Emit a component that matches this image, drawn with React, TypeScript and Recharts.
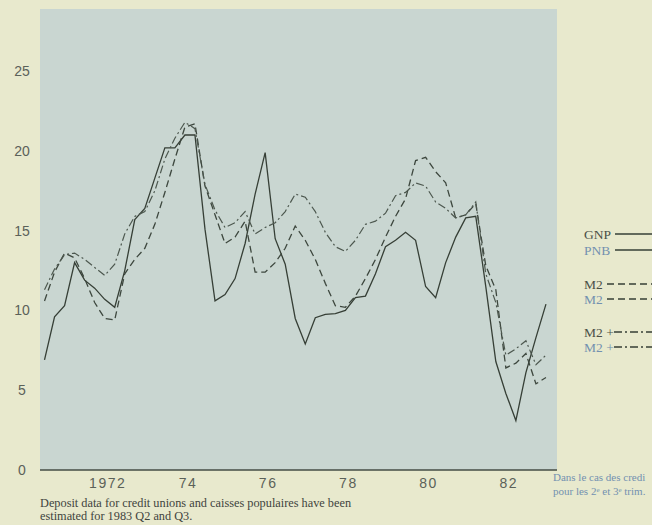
import React from 'react';
import { LineChart, Line, XAxis, YAxis } from 'recharts';

// year-over-year growth, %, quarterly from 1971 Q1 to 1983 Q3
const years = [1971, 1972, 1973, 1974, 1975, 1976, 1977, 1978, 1979, 1980, 1981, 1982, 1983];
const quarterNames = ['Q1', 'Q2', 'Q3', 'Q4'];

const gnp = [
  6.9, 9.6, 10.3, 13.0, 11.9, 11.4, 10.7, 10.2, 12.5, 15.7,
  16.4, 18.3, 20.2, 20.2, 21.0, 21.0, 15.1, 10.6, 11.0, 12.0,
  14.2, 17.3, 19.9, 14.5, 12.9, 9.5, 7.9, 9.55, 9.75, 9.8,
  10.0, 10.8, 10.9, 12.3, 14.0, 14.4, 14.9, 14.4, 11.5, 10.8,
  13.0, 14.6, 15.8, 15.9, 11.5, 6.8, 4.8, 3.1, 6.1, 8.3, 10.4,
];

const m2 = [
  10.6, 12.4, 13.6, 13.3, 12.0, 10.5, 9.5, 9.4, 12.3, 13.2,
  13.9, 15.4, 17.4, 19.5, 21.5, 21.7, 17.8, 16.0, 14.2, 14.6,
  15.6, 12.4, 12.4, 13.0, 13.9, 15.3, 14.4, 13.2, 11.7, 10.3,
  10.2, 10.9, 12.0, 13.2, 14.6, 15.9, 17.0, 19.4, 19.6, 18.7,
  18.0, 15.8, 16.0, 16.7, 12.8, 11.3, 6.4, 6.7, 7.3, 5.4, 5.8,
];

const m2plus = [
  11.3, 12.6, 13.5, 13.6, 13.2, 12.7, 12.2, 12.9, 14.8, 15.9,
  16.2, 17.5, 19.5, 20.8, 21.8, 21.4, 17.9, 16.3, 15.2, 15.5,
  16.2, 14.8, 15.2, 15.5, 16.2, 17.3, 17.1, 16.2, 14.9, 14.0,
  13.7, 14.4, 15.4, 15.6, 16.1, 17.2, 17.4, 18.0, 17.8, 16.8,
  16.4, 15.8, 16.0, 16.8, 12.3, 10.5, 7.2, 7.6, 8.1, 6.6, 7.2,
];

const yTicks = [0, 5, 10, 15, 20, 25];
const xTickYears = [1972, 1974, 1976, 1978, 1980, 1982];
const xTickLabels = ['1972', '74', '76', '78', '80', '82'];

const quarterLabels = years.flatMap((y) => quarterNames.map((q) => `${y} ${q}`));

const rows = gnp.map((v, i) => ({
  i,
  quarter: quarterLabels[i],
  gnp: v,
  m2: m2[i],
  m2plus: m2plus[i],
}));

// tick sits about mid-year
const xTicks = xTickYears.map((y) => (y - 1971) * 4 + 2.3);

const PAGE = '#e8e9cd';
const PANEL = '#c9d6d1';
const INK = '#363f36';
const TICK_TEXT = '#5b6159';
const BLUE_TEXT = '#7391b0';
const SERIF = "'Liberation Serif', 'Times New Roman', serif";

const renderXTick = (props: any) => {
  const { x, index } = props;
  return (
    <text
      x={x}
      y={488}
      textAnchor="middle"
      fill={TICK_TEXT}
      fontSize={14}
      letterSpacing={1.5}
      fontFamily="'Liberation Sans', Arial, sans-serif"
    >
      {xTickLabels[index]}
    </text>
  );
};

const renderYTick = (props: any) => {
  const { y, payload } = props;
  return (
    <text
      x={22}
      y={y + 5}
      textAnchor="middle"
      fill={TICK_TEXT}
      fontSize={14}
      fontFamily="'Liberation Sans', Arial, sans-serif"
    >
      {payload.value}
    </text>
  );
};

function Legend() {
  const items = [
    { label: 'GNP', color: '#4b5048', y: 234, x1: 615, dash: undefined },
    { label: 'PNB', color: BLUE_TEXT, y: 250, x1: 615, dash: undefined },
    { label: 'M2', color: '#4b5048', y: 284, x1: 607, dash: '7 4' },
    { label: 'M2', color: BLUE_TEXT, y: 299, x1: 607, dash: '7 4' },
    { label: 'M2 +', color: '#4b5048', y: 332, x1: 614, dash: '8 3 2 3' },
    { label: 'M2 +', color: BLUE_TEXT, y: 347, x1: 614, dash: '8 3 2 3' },
  ];
  return (
    <g>
      {items.map((it, k) => (
        <g key={k}>
          <text x={584} y={it.y + 4.5} fill={it.color} fontSize={13.5} fontFamily={SERIF}>
            {it.label}
          </text>
          <line
            x1={it.x1}
            x2={652}
            y1={it.y}
            y2={it.y}
            stroke={INK}
            strokeWidth={1.5}
            strokeDasharray={it.dash}
          />
        </g>
      ))}
    </g>
  );
}

export default function App() {
  return (
    <div
      style={{
        position: 'fixed',
        left: 0,
        top: 0,
        width: 652,
        height: 525,
        background: PAGE,
        overflow: 'hidden',
      }}
    >
      <div
        style={{ position: 'absolute', left: 40, top: 9, width: 517, height: 461, background: PANEL }}
      />
      <div style={{ position: 'absolute', left: 0, top: 0 }}>
        <LineChart
          width={652}
          height={525}
          data={rows}
          margin={{ top: 9, right: 95, bottom: 25, left: 0 }}
        >
          <XAxis
            dataKey="i"
            type="number"
            domain={[-0.45, 51.1]}
            ticks={xTicks}
            interval={0}
            tick={renderXTick}
            tickLine={false}
            axisLine={{ stroke: '#454c44', strokeWidth: 1.3 }}
            height={30}
            allowDataOverflow
          />
          <YAxis
            type="number"
            domain={[0, 28.9]}
            ticks={yTicks}
            interval={0}
            tick={renderYTick}
            axisLine={false}
            tickLine={false}
            width={40}
          />
          <Line
            dataKey="gnp"
            type="linear"
            stroke={INK}
            strokeWidth={1.3}
            dot={false}
            isAnimationActive={false}
          />
          <Line
            dataKey="m2"
            type="linear"
            stroke="#3d473e"
            strokeWidth={1.3}
            strokeDasharray="7 4"
            dot={false}
            isAnimationActive={false}
          />
          <Line
            dataKey="m2plus"
            type="linear"
            stroke="#4d584f"
            strokeWidth={1.2}
            strokeDasharray="8 3 2 3"
            dot={false}
            isAnimationActive={false}
          />
        </LineChart>
      </div>
      <svg
        width={652}
        height={525}
        style={{ position: 'absolute', left: 0, top: 0, pointerEvents: 'none' }}
      >
        <Legend />
        <g fontFamily={SERIF} fontSize={12.3} fill="#3f443e">
          <text x={40} y={507}>
            Deposit data for credit unions and caisses populaires have been
          </text>
          <text x={40} y={520}>
            estimated for 1983 Q2 and Q3.
          </text>
        </g>
        <g fontFamily={SERIF} fontSize={11} fill={BLUE_TEXT}>
          <text x={553} y={481}>
            Dans le cas des credi
          </text>
          <text x={553} y={495}>
            pour les 2
            <tspan fontSize={7} dy={-3.5}>e</tspan>
            <tspan dy={3.5}> et 3</tspan>
            <tspan fontSize={7} dy={-3.5}>e</tspan>
            <tspan dy={3.5}> trim.</tspan>
          </text>
        </g>
      </svg>
    </div>
  );
}
